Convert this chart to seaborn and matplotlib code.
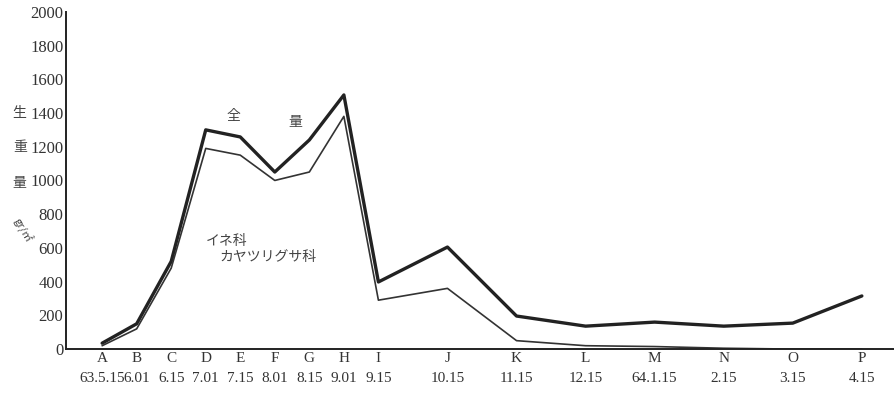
import numpy as np
import pandas as pd
import matplotlib
matplotlib.use("Agg")
import matplotlib.pyplot as plt
import seaborn as sns

# Data
letters = list("ABCDEFGHIJKLMNOP")
dates = ["63.5.15", "6.01", "6.15", "7.01", "7.15", "8.01", "8.15", "9.01",
         "9.15", "10.15", "11.15", "12.15", "64.1.15", "2.15", "3.15", "4.15"]
month_pos = [0, 0.5, 1, 1.5, 2, 2.5, 3, 3.5, 4, 5, 6, 7, 8, 9, 10, 11]
total = [35, 150, 520, 1300, 1258, 1050, 1240, 1507, 398, 605, 196, 136, 160, 136, 154, 315]
grass = [20, 120, 480, 1190, 1150, 1000, 1050, 1380, 290, 360, 50, 20, 15, 5, 0, 0]

df = pd.DataFrame({"x": month_pos * 2,
                   "y": total + grass,
                   "series": ["全量"] * len(total) + ["イネ科カヤツリグサ科"] * len(grass)})

sns.set_theme(style="white")
plt.rcParams['font.family'] = ['Liberation Serif', 'Noto Sans CJK JP', 'DejaVu Sans']

fig = plt.figure(figsize=(8.95, 3.94), dpi=100)
ax = fig.add_axes([0.074, 0.114, 0.926, 0.856])

sns.lineplot(data=df[df.series == "全量"], x="x", y="y", ax=ax, color="#222222",
             linewidth=2.4, legend=False)
sns.lineplot(data=df[df.series != "全量"], x="x", y="y", ax=ax, color="#333333",
             linewidth=1.2, legend=False)

ax.set_xlim(-0.52, 11.48)
ax.set_ylim(0, 2000)
ax.set_yticks(np.arange(0, 2001, 200))
ax.set_yticklabels([str(v) for v in range(0, 2001, 200)], fontsize=12, color="#333333")
ax.tick_params(axis="y", direction="in", length=6, width=1.2, color="#222222", pad=2)
ax.set_xticks(month_pos)
ax.set_xticklabels([f"{l}\n{d}" for l, d in zip(letters, dates)], fontsize=11,
                   color="#333333", linespacing=1.7)
ax.tick_params(axis="x", length=0, pad=2)
for s in ["top", "right"]:
    ax.spines[s].set_visible(False)
for s in ["left", "bottom"]:
    ax.spines[s].set_color("#222222")
    ax.spines[s].set_linewidth(1.4)
ax.set_xlabel("")
ax.set_ylabel("")

jp = ['Noto Sans CJK JP', 'DejaVu Sans']
for ch, yy in zip("生重量", [0.713, 0.627, 0.536]):
    fig.text(0.022, yy, ch, family=jp, fontsize=10, color="#444444", ha="center", va="center")
fig.text(0.025, 0.415, "gr/㎡", family=jp, fontsize=8, color="#444444", ha="center",
         va="center", rotation=-60, style="italic")

ax.text(1.9, 1360, "全", family=jp, fontsize=10, color="#444444", ha="center")
ax.text(2.8, 1320, "量", family=jp, fontsize=10, color="#444444", ha="center")
ax.text(1.5, 620, "イネ科", family=jp, fontsize=10, color="#444444", ha="left")
ax.text(1.7, 520, "カヤツリグサ科", family=jp, fontsize=10, color="#444444", ha="left")

fig.savefig("out.png", dpi=100)
